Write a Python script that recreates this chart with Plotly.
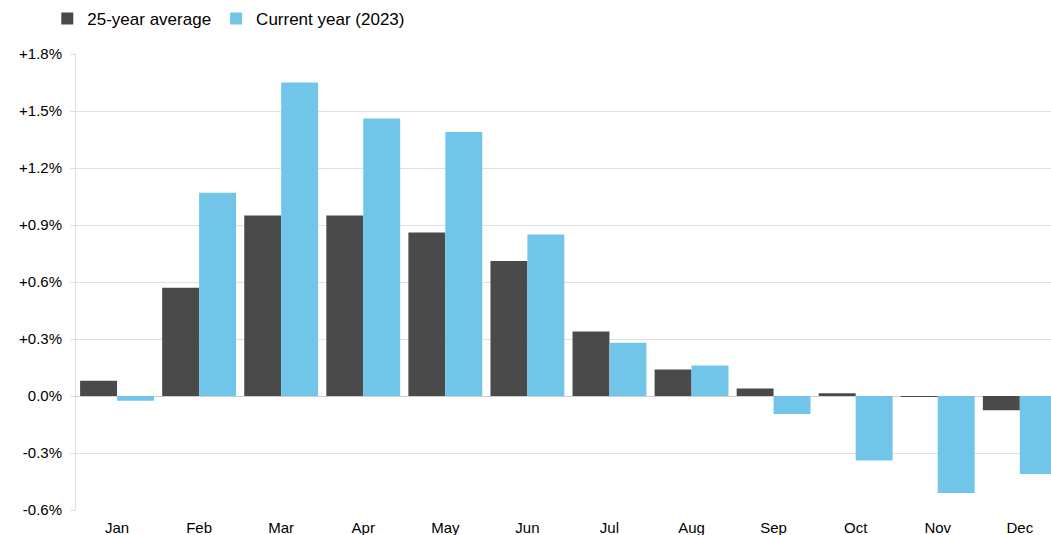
import plotly.graph_objects as go

months = ["Jan", "Feb", "Mar", "Apr", "May", "Jun", "Jul", "Aug", "Sep", "Oct", "Nov", "Dec"]
avg_25yr = [0.08, 0.57, 0.95, 0.95, 0.86, 0.71, 0.34, 0.14, 0.04, 0.015, -0.005, -0.075]
current_2023 = [-0.025, 1.07, 1.65, 1.46, 1.39, 0.85, 0.28, 0.16, -0.095, -0.34, -0.51, -0.41]
y_tickvals = [-0.6, -0.3, 0.0, 0.3, 0.6, 0.9, 1.2, 1.5, 1.8]
y_ticktext = ["-0.6%", "-0.3%", "0.0%", "+0.3%", "+0.6%", "+0.9%", "+1.2%", "+1.5%", "+1.8%"]

font = "Liberation Sans, Arial, sans-serif"

fig = go.Figure()
fig.add_trace(go.Bar(x=months, y=avg_25yr, name="25-year average",
                     marker=dict(color="#4a4a4a", line=dict(width=0))))
fig.add_trace(go.Bar(x=months, y=current_2023, name="Current year (2023)",
                     marker=dict(color="#71c5e8", line=dict(width=0))))

fig.update_layout(
    width=1051, height=535,
    barmode="group", bargap=0.1, bargroupgap=0,
    plot_bgcolor="white", paper_bgcolor="white",
    margin=dict(l=76, r=0, t=54, b=25, autoexpand=False),
    font=dict(family=font, size=14, color="#000000"),
    legend=dict(orientation="h", x=0.045, xref="container", y=0.998, yref="container",
                yanchor="top", xanchor="left", font=dict(size=17),
                itemwidth=30, tracegroupgap=0, bgcolor="rgba(0,0,0,0)"),
    xaxis=dict(range=[-0.5, 11.38], showgrid=False, showline=False, ticks="",
               tickfont=dict(size=15), zeroline=False, automargin=False,
               ticklabelstandoff=7),
    yaxis=dict(range=[-0.6, 1.8], tickvals=y_tickvals, ticktext=y_ticktext,
               showgrid=True, gridcolor="#e0e0e0", gridwidth=1,
               zeroline=True, zerolinecolor="#d0d0d0", zerolinewidth=1,
               showline=True, linecolor="#e0e0e0", linewidth=1,
               ticks="outside", ticklen=5, tickcolor="#e0e0e0",
               ticklabelstandoff=5, automargin=False,
               tickfont=dict(size=15)),
)

fig.write_html("out.html", config={"displayModeBar": False},
               post_script="document.body.style.margin='0';document.body.style.overflow='hidden';")
